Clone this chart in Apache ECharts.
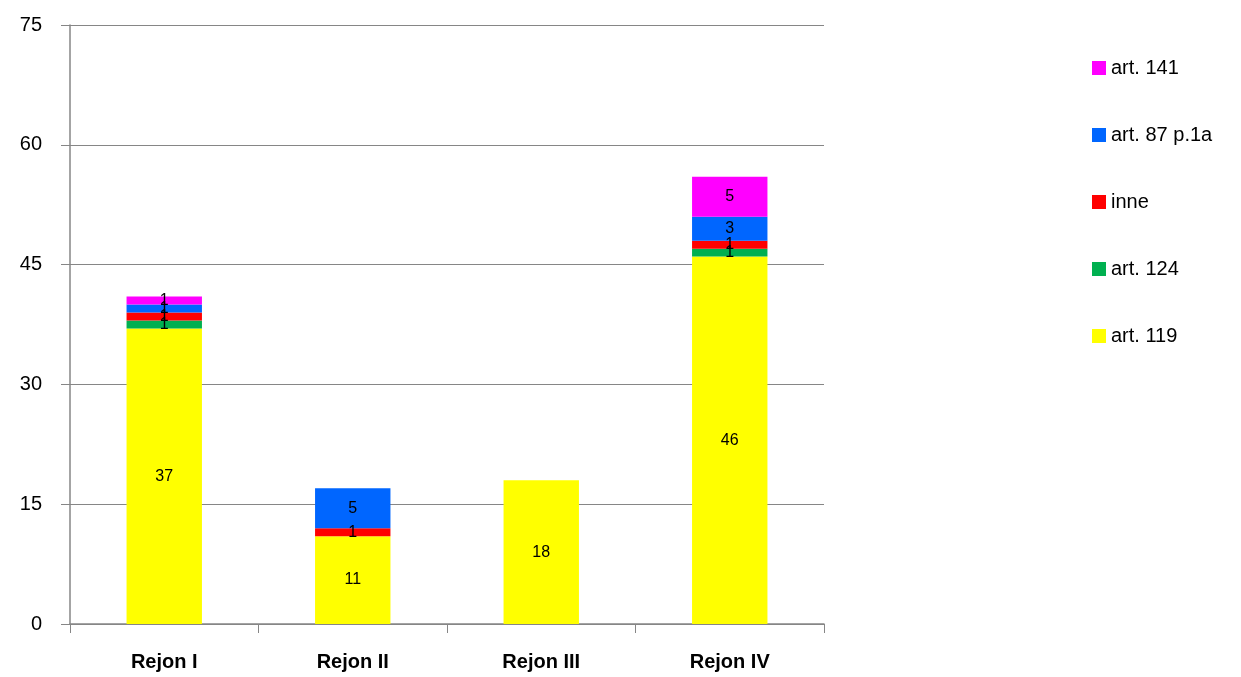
<!DOCTYPE html>
<html><head><meta charset="utf-8">
<script src="https://cdn.jsdelivr.net/npm/echarts@6/dist/echarts.min.js"></script>
<style>html,body{margin:0;padding:0;background:#fff}#c{width:1241px;height:677px}</style>
</head><body><div id="c"></div>
<script>
const categories = ['Rejon I', 'Rejon II', 'Rejon III', 'Rejon IV'];
const art119 = [37, 11, 18, 46];
const art124 = [1, 0, 0, 1];
const inne = [1, 1, 0, 1];
const art87 = [1, 5, 0, 3];
const art141 = [1, 0, 0, 5];
const yTicks = [0, 15, 30, 45, 60, 75];

const FONT = '"Liberation Sans", "Noto Sans", sans-serif';
function mk(name, data, color) {
  return {
    name, type: 'bar', stack: 'a', data, barWidth: '40%',
    itemStyle: { color },
    label: { show: true, position: 'inside', color: '#000', fontSize: 16, fontFamily: FONT,
      formatter: p => p.value ? String(p.value) : '' }
  };
}
const chart = echarts.init(document.getElementById('c'));
chart.setOption({
  animation: false,
  grid: { left: 70, right: 417, top: 25, bottom: 53 },
  legend: {
    orient: 'vertical', left: 1092, top: 58, padding: 0, itemWidth: 14, itemHeight: 14, itemGap: 47,
    itemTextGap: 7,
    textStyle: { fontSize: 20, color: '#000', fontFamily: FONT },
    data: ['art. 141', 'art. 87 p.1a', 'inne', 'art. 124', 'art. 119'],
    icon: 'rect'
  },
  xAxis: {
    type: 'category', data: categories,
    axisLine: { lineStyle: { color: '#868686', width: 1.5 } },
    axisTick: { show: true, length: 9, lineStyle: { color: '#868686' } },
    axisLabel: { fontSize: 20, fontWeight: 'bold', color: '#000', margin: 28, fontFamily: FONT }
  },
  yAxis: {
    type: 'value', min: yTicks[0], max: yTicks[yTicks.length - 1], interval: 15,
    axisLine: { show: true, lineStyle: { color: '#868686', width: 1.5 } },
    axisTick: { show: true, length: 9, lineStyle: { color: '#868686' } },
    splitLine: { lineStyle: { color: '#868686', width: 1 } },
    axisLabel: { fontSize: 20, color: '#000', margin: 28, fontFamily: FONT }
  },
  series: [
    mk('art. 119', art119, '#FFFF00'),
    mk('art. 124', art124, '#00B050'),
    mk('inne', inne, '#FF0000'),
    mk('art. 87 p.1a', art87, '#0066FF'),
    mk('art. 141', art141, '#FF00FF')
  ]
});
</script></body></html>
